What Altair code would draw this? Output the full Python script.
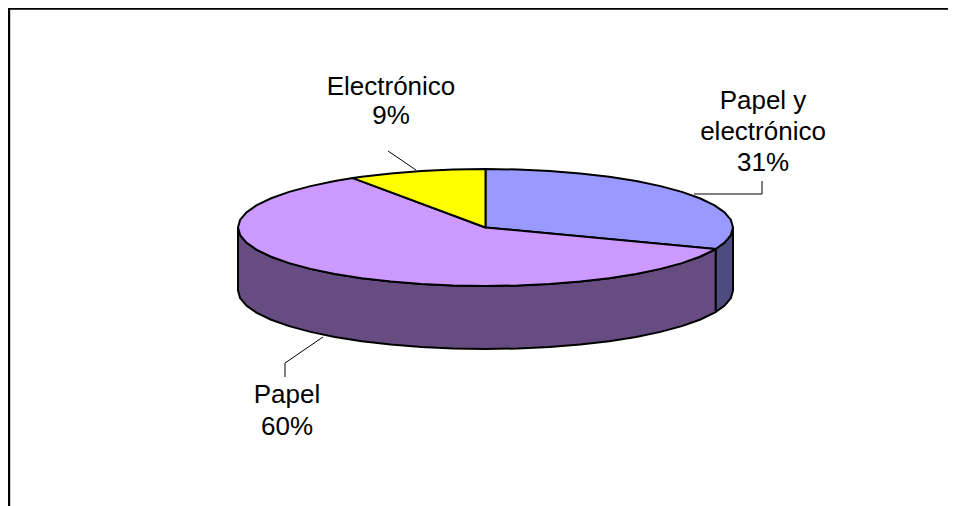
import numpy as np
import altair as alt

# ---- chart data ----
categories = ["Papel y electrónico", "Papel", "Electrónico"]
shares = [31, 60, 9]
top_colors = ["#9999FF", "#CC99FF", "#FFFF00"]
side_colors = ["#4C4C80", "#664C80", "#807F00"]

# ---- label text (one row per line) ----
label_lines = ["Electrónico", "9%", "Papel y", "electrónico", "31%", "Papel", "60%"]
label_x = [391, 391, 763, 763, 763, 287, 287]
label_y = [87, 116, 101, 132, 163, 395, 427]

# ---- leader lines ----
leader_id = [0, 0, 1, 1, 1, 2, 2, 2]
leader_x = [388, 416, 694, 762, 762, 323, 285, 285]
leader_y = [151, 170, 194, 194, 181, 337, 363, 377]

# ---- layout of the tilted pie ----
CX, CY, RX, RY, DEPTH = 485.5, 227.5, 247.5, 58.5, 63.0
STEP = 7.5


def rim(t, dy=0.0):
    r = np.radians(t)
    return [CX + RX * np.sin(r), CY - RY * np.cos(r) + dy]


def arc_angles(a, b):
    inner = [k * STEP for k in range(int(a // STEP) + 1, int(np.ceil(b / STEP)))]
    return [a] + inner + [b]


ends = np.cumsum(shares) * 3.6
starts = np.concatenate([[0.0], ends[:-1]])
features = []


def add(ring, color):
    features.append({
        "type": "Feature",
        "properties": {"color": color},
        "geometry": {"type": "Polygon", "coordinates": [ring + [ring[0]]]},
    })


# walls: only the front half of the rim shows
for s, e, c in zip(starts, ends, side_colors):
    a, b = max(s, 90.0), min(e, 270.0)
    if a < b:
        ts = arc_angles(a, b)
        add([rim(t) for t in ts] + [rim(t, DEPTH) for t in reversed(ts)], c)
# top face
for s, e, c in zip(starts, ends, top_colors):
    add([[CX, CY]] + [rim(t) for t in arc_angles(float(s), float(e))], c)

x_scale = alt.Scale(domain=[8, 948], range=[0, 940], nice=False, zero=False)
y_scale = alt.Scale(domain=[8, 506], range=[0, 498], nice=False, zero=False)
X = lambda f: alt.X(f, type="quantitative", scale=x_scale, axis=None)
Y = lambda f: alt.Y(f, type="quantitative", scale=y_scale, axis=None)

pie = alt.Chart(
    alt.InlineData(
        values={"type": "FeatureCollection", "features": features},
        format=alt.DataFormat(property="features", type="json"),
    )
).mark_geoshape(stroke="#000000", strokeWidth=2, strokeJoin="round").encode(
    fill=alt.Fill("properties.color:N", scale=None, legend=None)
).project(type="identity", scale=1, translate=[-8, -8])

leaders = alt.Chart(alt.Data(values=[
    {"id": i, "x": x, "y": y, "o": k}
    for k, (i, x, y) in enumerate(zip(leader_id, leader_x, leader_y))
])).mark_line(color="#000000", strokeWidth=1).encode(
    x=X("x"), y=Y("y"), detail="id:N", order="o:Q"
)

labels = alt.Chart(alt.Data(values=[
    {"t": t, "x": x, "y": y} for t, x, y in zip(label_lines, label_x, label_y)
])).mark_text(
    font="Liberation Sans", fontSize=26, color="#000000", align="center", baseline="middle"
).encode(x=X("x"), y=Y("y"), text="t:N")

frame = alt.Chart(alt.Data(values=[
    {"x": 9, "y": 506, "o": 0}, {"x": 9, "y": 8.5, "o": 1}, {"x": 948, "y": 8.5, "o": 2},
])).mark_line(color="#000000", strokeWidth=2.4, clip=False).encode(
    x=X("x"), y=Y("y"), order="o:Q"
)

chart = alt.layer(pie, leaders, labels, frame).properties(
    width=940, height=498, padding=0, background="#FFFFFF",
    autosize=alt.AutoSizeParams(type="none"),
).configure_view(stroke=None)

chart.save("out.html", embed_options={"renderer": "svg", "actions": False})
